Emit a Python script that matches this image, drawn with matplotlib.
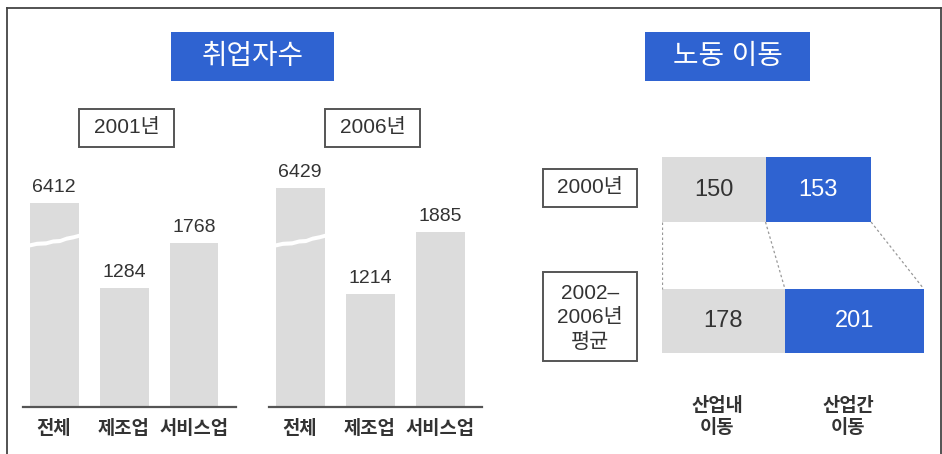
import matplotlib.pyplot as plt
from matplotlib.patches import Rectangle
from matplotlib.lines import Line2D

plt.rcParams['font.family'] = ['Liberation Sans', 'Noto Sans CJK KR', 'DejaVu Sans']

# ---- data ----
categories = ['전체', '제조업', '서비스업']
years = ['2001년', '2006년']
employed_2001 = [6412, 1284, 1768]
employed_2006 = [6429, 1214, 1885]

move_rows = ['2000년', '2002–\n2006년\n평균']
within_industry = [150, 178]   # 산업내 이동
between_industry = [153, 201]  # 산업간 이동
move_labels = ['산업내\n이동', '산업간\n이동']

GRAY = '#DCDCDC'
BLUE = '#2F63D1'
DARK = '#333333'

W, H = 942, 454
fig = plt.figure(figsize=(W / 100, H / 100), dpi=100)


def fx(x):
    return x / W


def fy(y):
    return 1 - y / H


def box(x0, y0, x1, y1, **kw):
    fig.patches.append(Rectangle((fx(x0), fy(y1)), fx(x1) - fx(x0), fy(y0) - fy(y1),
                                 transform=fig.transFigure, **kw))


# outer frame
for xs, ys in [([7, 941], [8, 8]), ([7, 7], [8, 454]), ([941, 941], [8, 454])]:
    fig.lines.append(Line2D([fx(x) for x in xs], [fy(y) for y in ys],
                            transform=fig.transFigure, color='#444444', lw=1.3))

# titles
box(171, 32, 334, 81, facecolor=BLUE, edgecolor='none')
fig.text(fx(252.5), fy(57), '취업자수', color='white', fontsize=20, ha='center', va='center')
box(645, 32, 810, 81, facecolor=BLUE, edgecolor='none')
fig.text(fx(727.5), fy(57), '노동 이동', color='white', fontsize=20, ha='center', va='center')

# ---- employment bar panels ----
SCALE = 0.093          # px per unit
BREAK = 1750           # where the 전체 bar is cut


def shown(v, i):
    # 전체 bar is drawn with a broken axis, the rest to scale
    if i == 0:
        return BREAK + (v - 6368) * 10
    return v


for k, (vals, year) in enumerate(zip([employed_2001, employed_2006], years)):
    off = 246 * k
    left, right, base, top = 23 + off, 236 + off, 407, 150
    ax = fig.add_axes([fx(left), fy(base), fx(right) - fx(left), fy(top) - fy(base)])
    ax.set_xlim((left - (54 + off)) / 70, (right - (54 + off)) / 70)
    ax.set_ylim(0, (base - top) / SCALE)
    heights = [shown(v, i) for i, v in enumerate(vals)]
    ax.bar(range(len(vals)), heights, width=0.7, color=GRAY)
    for i, v in enumerate(vals):
        ax.annotate(str(v), (i, heights[i]), xytext=(0, 5), textcoords='offset points',
                    ha='center', va='bottom', fontsize=14, color=DARK)
    # break mark on the 전체 bar
    bx = [-0.37, -0.25, -0.12, -0.02, 0.08, 0.17, 0.27, 0.37]
    by = [1740, 1760, 1765, 1785, 1790, 1815, 1830, 1850]
    ax.fill_between(bx, [y - 22 for y in by], [y + 22 for y in by], color='white', lw=0)
    ax.set_xticks(range(len(vals)))
    ax.set_xticklabels(categories, fontsize=13.5, fontweight='bold', color=DARK)
    ax.tick_params(axis='x', length=0, pad=9)
    ax.set_yticks([])
    for s in ['top', 'right', 'left']:
        ax.spines[s].set_visible(False)
    ax.spines['bottom'].set_color('#555555')
    ax.spines['bottom'].set_linewidth(1.6)
    ax.patch.set_alpha(0)
    # year box
    bx0 = 79 + off
    box(bx0, 109, bx0 + 95, 147, facecolor='white', edgecolor='#555555', lw=1.4)
    fig.text(fx(bx0 + 47.5), fy(128), year, fontsize=15, ha='center', va='center', color=DARK)

# ---- labour mobility panel ----
MSCALE = 0.69
left, right, top, bottom = 662, 940, 150, 360
ax = fig.add_axes([fx(left), fy(bottom), fx(right) - fx(left), fy(top) - fy(bottom)])
ax.set_xlim(0, (right - left) / MSCALE)
ax.set_ylim((bottom - 189.5) / 131.5, -(189.5 - top) / 131.5)
rows = range(len(move_rows))
bh = 0.494
ax.barh(rows, within_industry, height=bh, color=GRAY)
ax.barh(rows, between_industry, left=within_industry, height=bh, color=BLUE)
for r in rows:
    a, b = within_industry[r], between_industry[r]
    ax.text(a / 2, r, str(a), ha='center', va='center', fontsize=17, color=DARK)
    ax.text(a + b / 2, r, str(b), ha='center', va='center', fontsize=17, color='white')
# dotted connectors between the two rows
top_edges = [0, within_industry[0], within_industry[0] + between_industry[0]]
bot_edges = [0, within_industry[1], within_industry[1] + between_industry[1]]
for t, b in zip(top_edges, bot_edges):
    ax.plot([t, b], [bh / 2, 1 - bh / 2], color='#999999', lw=0.9, ls=(0, (2, 2)))
ax.axis('off')

# row label boxes
box(543, 169, 637, 207, facecolor='white', edgecolor='#555555', lw=1.4)
fig.text(fx(590), fy(188), move_rows[0], fontsize=15, ha='center', va='center', color=DARK)
box(543, 272, 637, 361, facecolor='white', edgecolor='#555555', lw=1.4)
fig.text(fx(590), fy(318), move_rows[1], fontsize=15, ha='center', va='center',
         color=DARK, linespacing=1.35)

# column labels
for x, lab in zip([717, 848], move_labels):
    fig.text(fx(x), fy(417), lab, fontsize=13.5, fontweight='bold', ha='center', va='center',
             color=DARK, linespacing=1.3)

fig.savefig('out.png', dpi=100)
